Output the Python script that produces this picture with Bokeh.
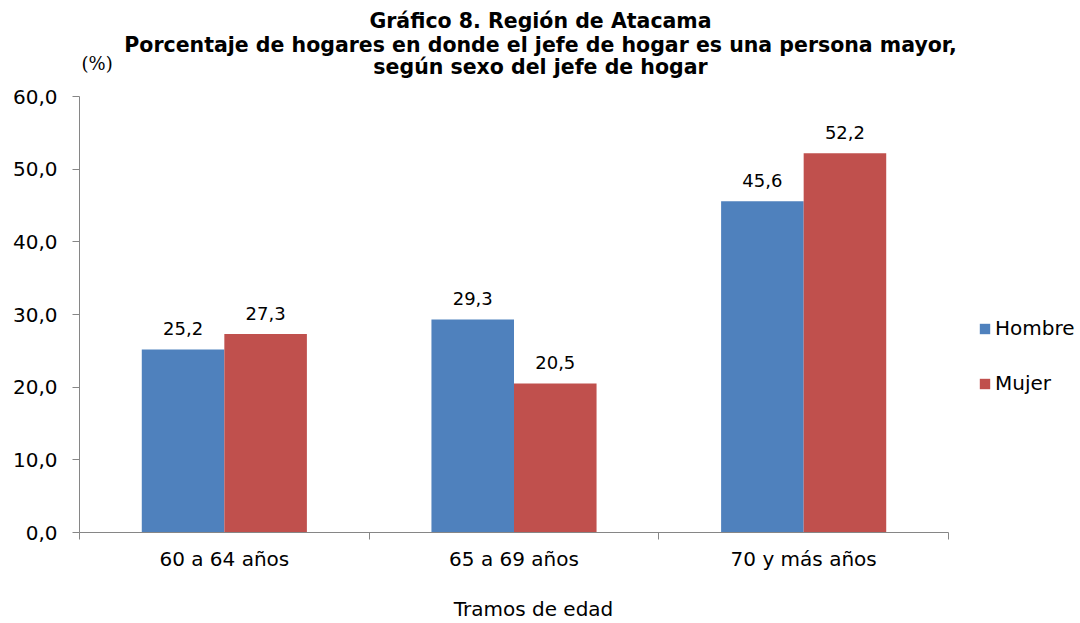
from bokeh.plotting import figure
from bokeh.models import (Range1d, LinearAxis, FixedTicker,
                          ColumnDataSource, Label, Legend, LegendItem)
from bokeh.transform import dodge
from bokeh.core.properties import value
from bokeh.embed import file_html
from bokeh.resources import INLINE

# ---- data ----
categories = ["60 a 64 años", "65 a 69 años", "70 y más años"]
hombre = [25.2, 29.3, 45.6]
mujer = [27.3, 20.5, 52.2]
series_names = ["Hombre", "Mujer"]
y_ticks = [0, 10, 20, 30, 40, 50, 60]
y_tick_labels = ["0,0", "10,0", "20,0", "30,0", "40,0", "50,0", "60,0"]
title_lines = ["Gráfico 8. Región de Atacama",
               "Porcentaje de hogares en donde el jefe de hogar es una persona mayor,",
               "según sexo del jefe de hogar"]
y_unit = "(%)"
x_title = "Tramos de edad"

BLUE = "#4F81BD"
RED = "#C0504D"
AXIS = "#868686"
FONT = "DejaVu Sans"

# ---- layout (pixels) ----
W, H = 1080, 623
AX_LEFT, AX_RIGHT = 79, 948      # x extent of the axis
AX_TOP, AX_BOTTOM = 96, 532      # y position of 60 and 0
X_TITLE_CENTER = 533             # horizontal centre of the x-axis title


def fmt(v):
    return f"{v:.1f}".replace(".", ",")


n = len(categories)
y_max = y_ticks[-1]
cat_pos = [i + 0.5 for i in range(n)]
source = ColumnDataSource(dict(
    pos=cat_pos,
    hombre=hombre,
    mujer=mujer,
    hombre_lbl=[fmt(v) for v in hombre],
    mujer_lbl=[fmt(v) for v in mujer],
))

# the frame spans the whole area right of the y axis and above the x axis;
# the axes themselves are bounded to the data region
px_per_cat = (AX_RIGHT - AX_LEFT) / n
x_end = (W - AX_LEFT) / px_per_cat
y_end = y_max * AX_BOTTOM / (AX_BOTTOM - AX_TOP)

p = figure(x_range=Range1d(0, x_end),
           y_range=Range1d(0, y_end),
           width=W, height=H,
           output_backend="svg", toolbar_location=None,
           x_axis_location=None,
           min_border_left=AX_LEFT, min_border_right=0,
           min_border_top=0, min_border_bottom=H - AX_BOTTOM)
p.outline_line_color = None
p.xgrid.visible = False
p.ygrid.visible = False
p.background_fill_color = "white"
p.border_fill_color = "white"

# y axis
yax = p.yaxis[0]
yax.bounds = (0, y_max)
yax.ticker = FixedTicker(ticks=y_ticks)
yax.major_label_overrides = dict(zip(y_ticks, y_tick_labels))
yax.minor_tick_line_color = None
yax.major_tick_in = 0
yax.major_tick_out = 7
yax.axis_line_color = AXIS
yax.major_tick_line_color = AXIS
yax.major_label_text_font = FONT
yax.major_label_text_font_size = "20px"
yax.major_label_text_color = "black"
yax.major_label_standoff = 15

# x axis: ticks at category boundaries + category labels at centres
tick_axis = LinearAxis(ticker=FixedTicker(ticks=list(range(n + 1))),
                       bounds=(0, n),
                       major_label_text_font_size="0px",
                       major_label_standoff=0,
                       major_tick_in=0, major_tick_out=7,
                       minor_tick_line_color=None,
                       axis_line_color=AXIS, major_tick_line_color=AXIS)
p.add_layout(tick_axis, "below")
cat_axis = LinearAxis(ticker=FixedTicker(ticks=cat_pos),
                      bounds=(0, n),
                      major_label_overrides=dict(zip(cat_pos, categories)),
                      axis_line_color=None, major_tick_line_color=None,
                      minor_tick_line_color=None,
                      major_tick_in=0, major_tick_out=0,
                      major_label_text_font=FONT,
                      major_label_text_font_size="20px",
                      major_label_text_color="black",
                      major_label_standoff=7)
p.add_layout(cat_axis, "below")
# x-axis title, drawn as the single label of a bare axis
x_title_pos = (X_TITLE_CENTER - AX_LEFT) / px_per_cat
title_axis = LinearAxis(ticker=FixedTicker(ticks=[x_title_pos]),
                        major_label_overrides={x_title_pos: x_title},
                        axis_line_color=None, major_tick_line_color=None,
                        minor_tick_line_color=None,
                        major_tick_in=0, major_tick_out=0,
                        major_label_text_font=FONT,
                        major_label_text_font_size="20px",
                        major_label_text_color="black",
                        major_label_standoff=23)
p.add_layout(title_axis, "below")

# bars
bw = 0.285
r1 = p.vbar(x=dodge("pos", -bw / 2), top="hombre", width=bw,
            source=source, fill_color=BLUE, line_color=None)
r2 = p.vbar(x=dodge("pos", bw / 2), top="mujer", width=bw,
            source=source, fill_color=RED, line_color=None)

# value labels
for col, off in (("hombre", -bw / 2), ("mujer", bw / 2)):
    p.text(x=dodge("pos", off), y=col, text=col + "_lbl",
           source=source, text_align="center", text_baseline="middle",
           y_offset=-21, text_font=value(FONT), text_font_size="18px",
           text_color="black")

# legend
legend = Legend(items=[LegendItem(label=series_names[0], renderers=[r1]),
                       LegendItem(label=series_names[1], renderers=[r2])],
                location=(978 - AX_LEFT, AX_BOTTOM - 395), orientation="vertical",
                padding=0, margin=0, border_line_color=None,
                background_fill_alpha=0,
                glyph_width=13, glyph_height=13, label_standoff=4,
                spacing=31, label_text_font=FONT, label_text_font_size="20px",
                label_text_color="black")
p.add_layout(legend)

# titles
for line, base in zip(title_lines, (20, 44, 66)):
    p.add_layout(Label(x=540 - AX_LEFT, y=AX_BOTTOM - base, x_units="screen", y_units="screen",
                       text=line, text_align="center", text_baseline="alphabetic",
                       text_font=FONT, text_font_size="20.5px", text_font_style="bold",
                       text_color="black"))

p.add_layout(Label(x=2, y=AX_BOTTOM - 63, x_units="screen", y_units="screen", text=y_unit,
                   text_align="left", text_baseline="middle",
                   text_font="DejaVu Serif", text_font_size="18px", text_color="black"))

open("out.html", "w").write(file_html(p, INLINE))
